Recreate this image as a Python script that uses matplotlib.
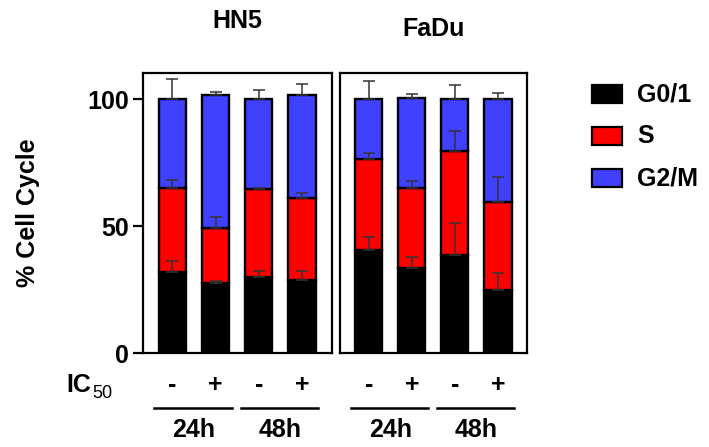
import matplotlib
matplotlib.use("Agg")
import matplotlib.pyplot as plt
from matplotlib.patches import Rectangle

plt.rcParams['font.family'] = ['Liberation Sans', 'DejaVu Sans']
plt.rcParams['font.weight'] = 'bold'

# data (stacked %)
conditions = ['-', '+', '-', '+']
times = ['24h', '48h']
cell_lines = ['HN5', 'FaDu']

hn5_g01 = [32.1, 27.6, 29.9, 28.9]
hn5_s = [32.9, 21.8, 34.7, 32.4]
hn5_g2m = [35.0, 52.3, 35.4, 40.4]
hn5_g01_err = [4.4, 0.9, 2.5, 3.5]
hn5_s_err = [3.2, 4.4, 0.4, 1.9]
hn5_g2m_err = [7.9, 1.3, 3.7, 4.2]

fadu_g01 = [40.7, 33.5, 38.7, 24.9]
fadu_s = [35.7, 31.5, 41.1, 34.8]
fadu_g2m = [23.6, 35.4, 20.2, 40.3]
fadu_g01_err = [5.2, 4.3, 12.7, 6.6]
fadu_s_err = [2.3, 2.9, 7.7, 9.6]
fadu_g2m_err = [7.3, 1.7, 5.6, 2.6]

phase_names = ['G0/1', 'S', 'G2/M']
phase_colors = ['#000000', '#ff0000', '#4040ff']

FS = 18
W, H = 709, 447
fig = plt.figure(figsize=(W / 100, H / 100), dpi=100)


def px_axes(x0, x1, y0, y1):
    # pixel box (top-left origin) -> figure axes
    return fig.add_axes([x0 / W, 1 - y1 / H, (x1 - x0) / W, (y1 - y0) / H])


def draw_panel(ax, g01, s, g2m, errs, title, title_y):
    x = list(range(len(g01)))
    bottom = [0] * len(g01)
    for vals, err, col in zip([g01, s, g2m], errs, phase_colors):
        ax.bar(x, vals, 0.63, bottom=bottom, color=col, edgecolor='black',
               linewidth=1.7, zorder=2)
        tops = [b + v for b, v in zip(bottom, vals)]
        ax.errorbar(x, tops, yerr=[[0] * len(err), err], fmt='none',
                    ecolor='#333333', elinewidth=1.1, capsize=4.5,
                    capthick=1.1, zorder=3)
        bottom = tops
    ax.set_ylim(0, 110.5)
    for sp in ax.spines.values():
        sp.set_linewidth(1.6)
    ax.set_xticks([])
    ax.text(0.5, title_y, title, transform=ax.transAxes, ha='center',
            va='center', fontsize=FS, fontweight='bold')
    trans = ax.get_xaxis_transform()
    for xi, c in zip(x, conditions):
        ax.text(xi, -0.113, c, transform=trans, ha='center', va='center',
                fontsize=FS, fontweight='bold')
    for k, t in enumerate(times):
        a, b = 2 * k, 2 * k + 1
        ax.plot([a - 0.42, b + 0.38], [-0.194, -0.194], transform=trans,
                color='black', lw=1.8, clip_on=False)
        ax.text((a + b) / 2, -0.275, t, transform=trans, ha='center',
                va='center', fontsize=FS, fontweight='bold')


ax1 = px_axes(142.7, 331.7, 72.7, 353.3)
ax1.set_xlim(-0.69, 3.69)
draw_panel(ax1, hn5_g01, hn5_s, hn5_g2m,
           [hn5_g01_err, hn5_s_err, hn5_g2m_err], cell_lines[0], 1.185)
ax1.set_yticks([0, 50, 100])
ax1.tick_params(axis='y', length=7, width=1.6, labelsize=FS, pad=3)
for lab in ax1.get_yticklabels():
    lab.set_fontweight('bold')
ax1.set_ylabel('% Cell Cycle', fontsize=FS, fontweight='bold', labelpad=34)

ax2 = px_axes(340, 526.7, 72.7, 353.3)
ax2.set_xlim(-0.667, 3.667)
draw_panel(ax2, fadu_g01, fadu_s, fadu_g2m,
           [fadu_g01_err, fadu_s_err, fadu_g2m_err], cell_lines[1], 1.155)
ax2.set_yticks([])

# IC50 label
fig.text(91 / W, 1 - 385 / H, 'IC', ha='right', va='center', fontsize=FS,
         fontweight='bold')
fig.text(92 / W, 1 - 393 / H, '50', ha='left', va='center', fontsize=13,
         fontweight='normal')

# legend on the right
for k, (name, col) in enumerate(zip(phase_names, phase_colors)):
    yc = 94 + 42 * k
    fig.patches.append(Rectangle((592 / W, 1 - (yc + 9) / H), 30 / W, 18 / H,
                                 facecolor=col, edgecolor='black',
                                 linewidth=1.6, transform=fig.transFigure))
    fig.text(637 / W, 1 - yc / H, name, ha='left', va='center',
             fontsize=FS, fontweight='bold')

fig.savefig('out.png', dpi=100)
